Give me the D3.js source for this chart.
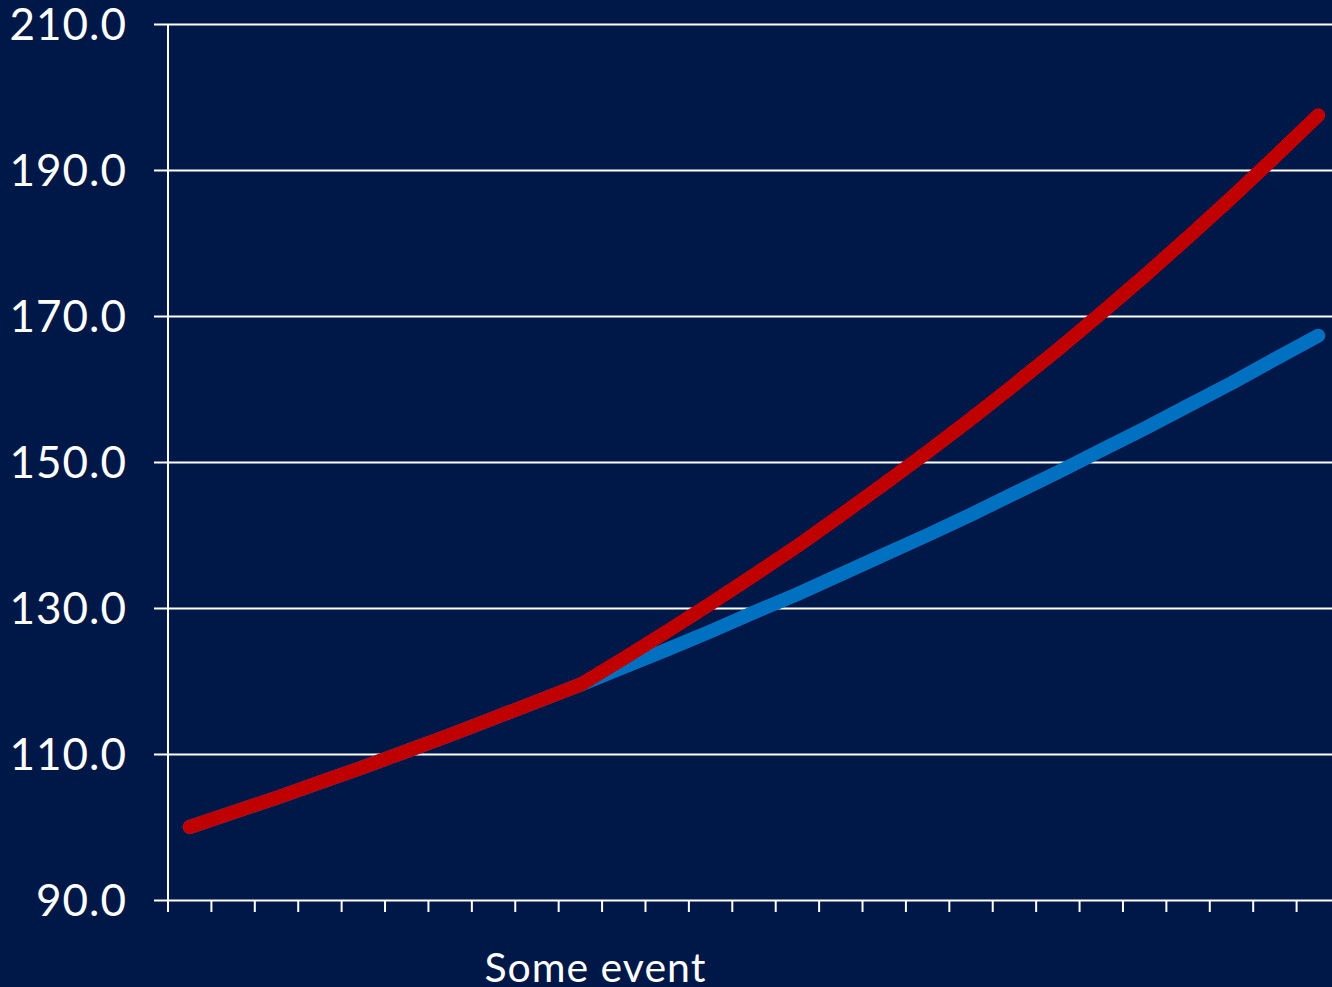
<!DOCTYPE html>
<html>
<head>
<meta charset="utf-8">
<script src="https://cdn.jsdelivr.net/npm/d3@7/dist/d3.min.js"></script>
<style>
  html, body { margin: 0; padding: 0; background: #001848; overflow: hidden; }
  svg { display: block; }
  text { font-family: Lato, "Open Sans", sans-serif; fill: #ffffff; }
</style>
</head>
<body>
<svg id="chart" width="1332" height="987"></svg>
<script>
// ---- data ----
const categories = ["", "", "", "", "", "", "", "", "", "Some event", "", "", "", "", "",
                    "", "", "", "", "", "", "", "", "", "", "", ""];
const blueValues = [100.0, 102.0, 104.0, 106.1, 108.2, 110.4, 112.6, 114.9, 117.2, 119.5,
                    121.9, 124.3, 126.8, 129.4, 131.9, 134.6, 137.3, 140.0, 142.8, 145.7,
                    148.6, 151.6, 154.6, 157.7, 160.8, 164.1, 167.3];
const redValues  = [100.0, 102.0, 104.0, 106.1, 108.2, 110.4, 112.6, 114.9, 117.2, 119.5,
                    123.1, 126.8, 130.6, 134.5, 138.5, 142.7, 147.0, 151.4, 155.9, 160.6,
                    165.4, 170.4, 175.5, 180.8, 186.2, 191.8, 197.5];
const yTicks = [90, 110, 130, 150, 170, 190, 210];

// ---- layout ----
const svg = d3.select("#chart");
const W = 1332, H = 987;
const mLeft = 168, mRight = 1340, mTop = 24, mBottom = 900;

svg.append("rect").attr("width", W).attr("height", H).attr("fill", "#001848");

const idx = categories.map((d, i) => i);
const x = d3.scaleBand().domain(idx).range([mLeft, mRight]).paddingInner(0).paddingOuter(0);
const y = d3.scaleLinear().domain([90, 210]).range([mBottom, mTop]);
const bw = x.bandwidth();

// gridlines + y labels
const yAxis = d3.axisLeft(y)
  .tickValues(yTicks)
  .tickFormat(d3.format(".1f"))
  .tickSize(-(mRight - (mLeft - 14)))
  .tickPadding(27);
const gy = svg.append("g").attr("transform", `translate(${mLeft - 14},0)`).call(yAxis);
gy.select(".domain").remove();
gy.selectAll(".tick line").attr("stroke", "#ffffff").attr("stroke-width", 2);
gy.selectAll(".tick text")
  .attr("fill", "#ffffff")
  .attr("dy", "0.36em")
  .style("font-size", "44px")
  .style("letter-spacing", "1px")
  .style("font-family", "Lato, 'Open Sans', sans-serif");

// y axis line
svg.append("line")
  .attr("x1", mLeft).attr("x2", mLeft)
  .attr("y1", y(210)).attr("y2", mBottom + 12)
  .attr("stroke", "#ffffff").attr("stroke-width", 2);

// x ticks at category boundaries
svg.append("g").selectAll("line")
  .data(idx)
  .join("line")
  .attr("x1", d => x(d)).attr("x2", d => x(d))
  .attr("y1", mBottom).attr("y2", mBottom + 12)
  .attr("stroke", "#ffffff").attr("stroke-width", 2);

// x category labels
svg.append("g").selectAll("text")
  .data(idx.filter(i => categories[i] !== ""))
  .join("text")
  .attr("x", d => x(d) + bw / 2 + 15)
  .attr("y", 982)
  .attr("text-anchor", "middle")
  .style("font-size", "41px")
  .style("letter-spacing", "1px")
  .text(d => categories[d]);

// lines
const line = d3.line()
  .x((d, i) => x(i) + bw / 2)
  .y(d => y(d));

svg.append("path")
  .datum(blueValues)
  .attr("d", line)
  .attr("fill", "none")
  .attr("stroke", "#0070C0")
  .attr("stroke-width", 14)
  .attr("stroke-linecap", "round")
  .attr("stroke-linejoin", "round");

svg.append("path")
  .datum(redValues)
  .attr("d", line)
  .attr("fill", "none")
  .attr("stroke", "#C00000")
  .attr("stroke-width", 14)
  .attr("stroke-linecap", "round")
  .attr("stroke-linejoin", "round");
</script>
</body>
</html>
